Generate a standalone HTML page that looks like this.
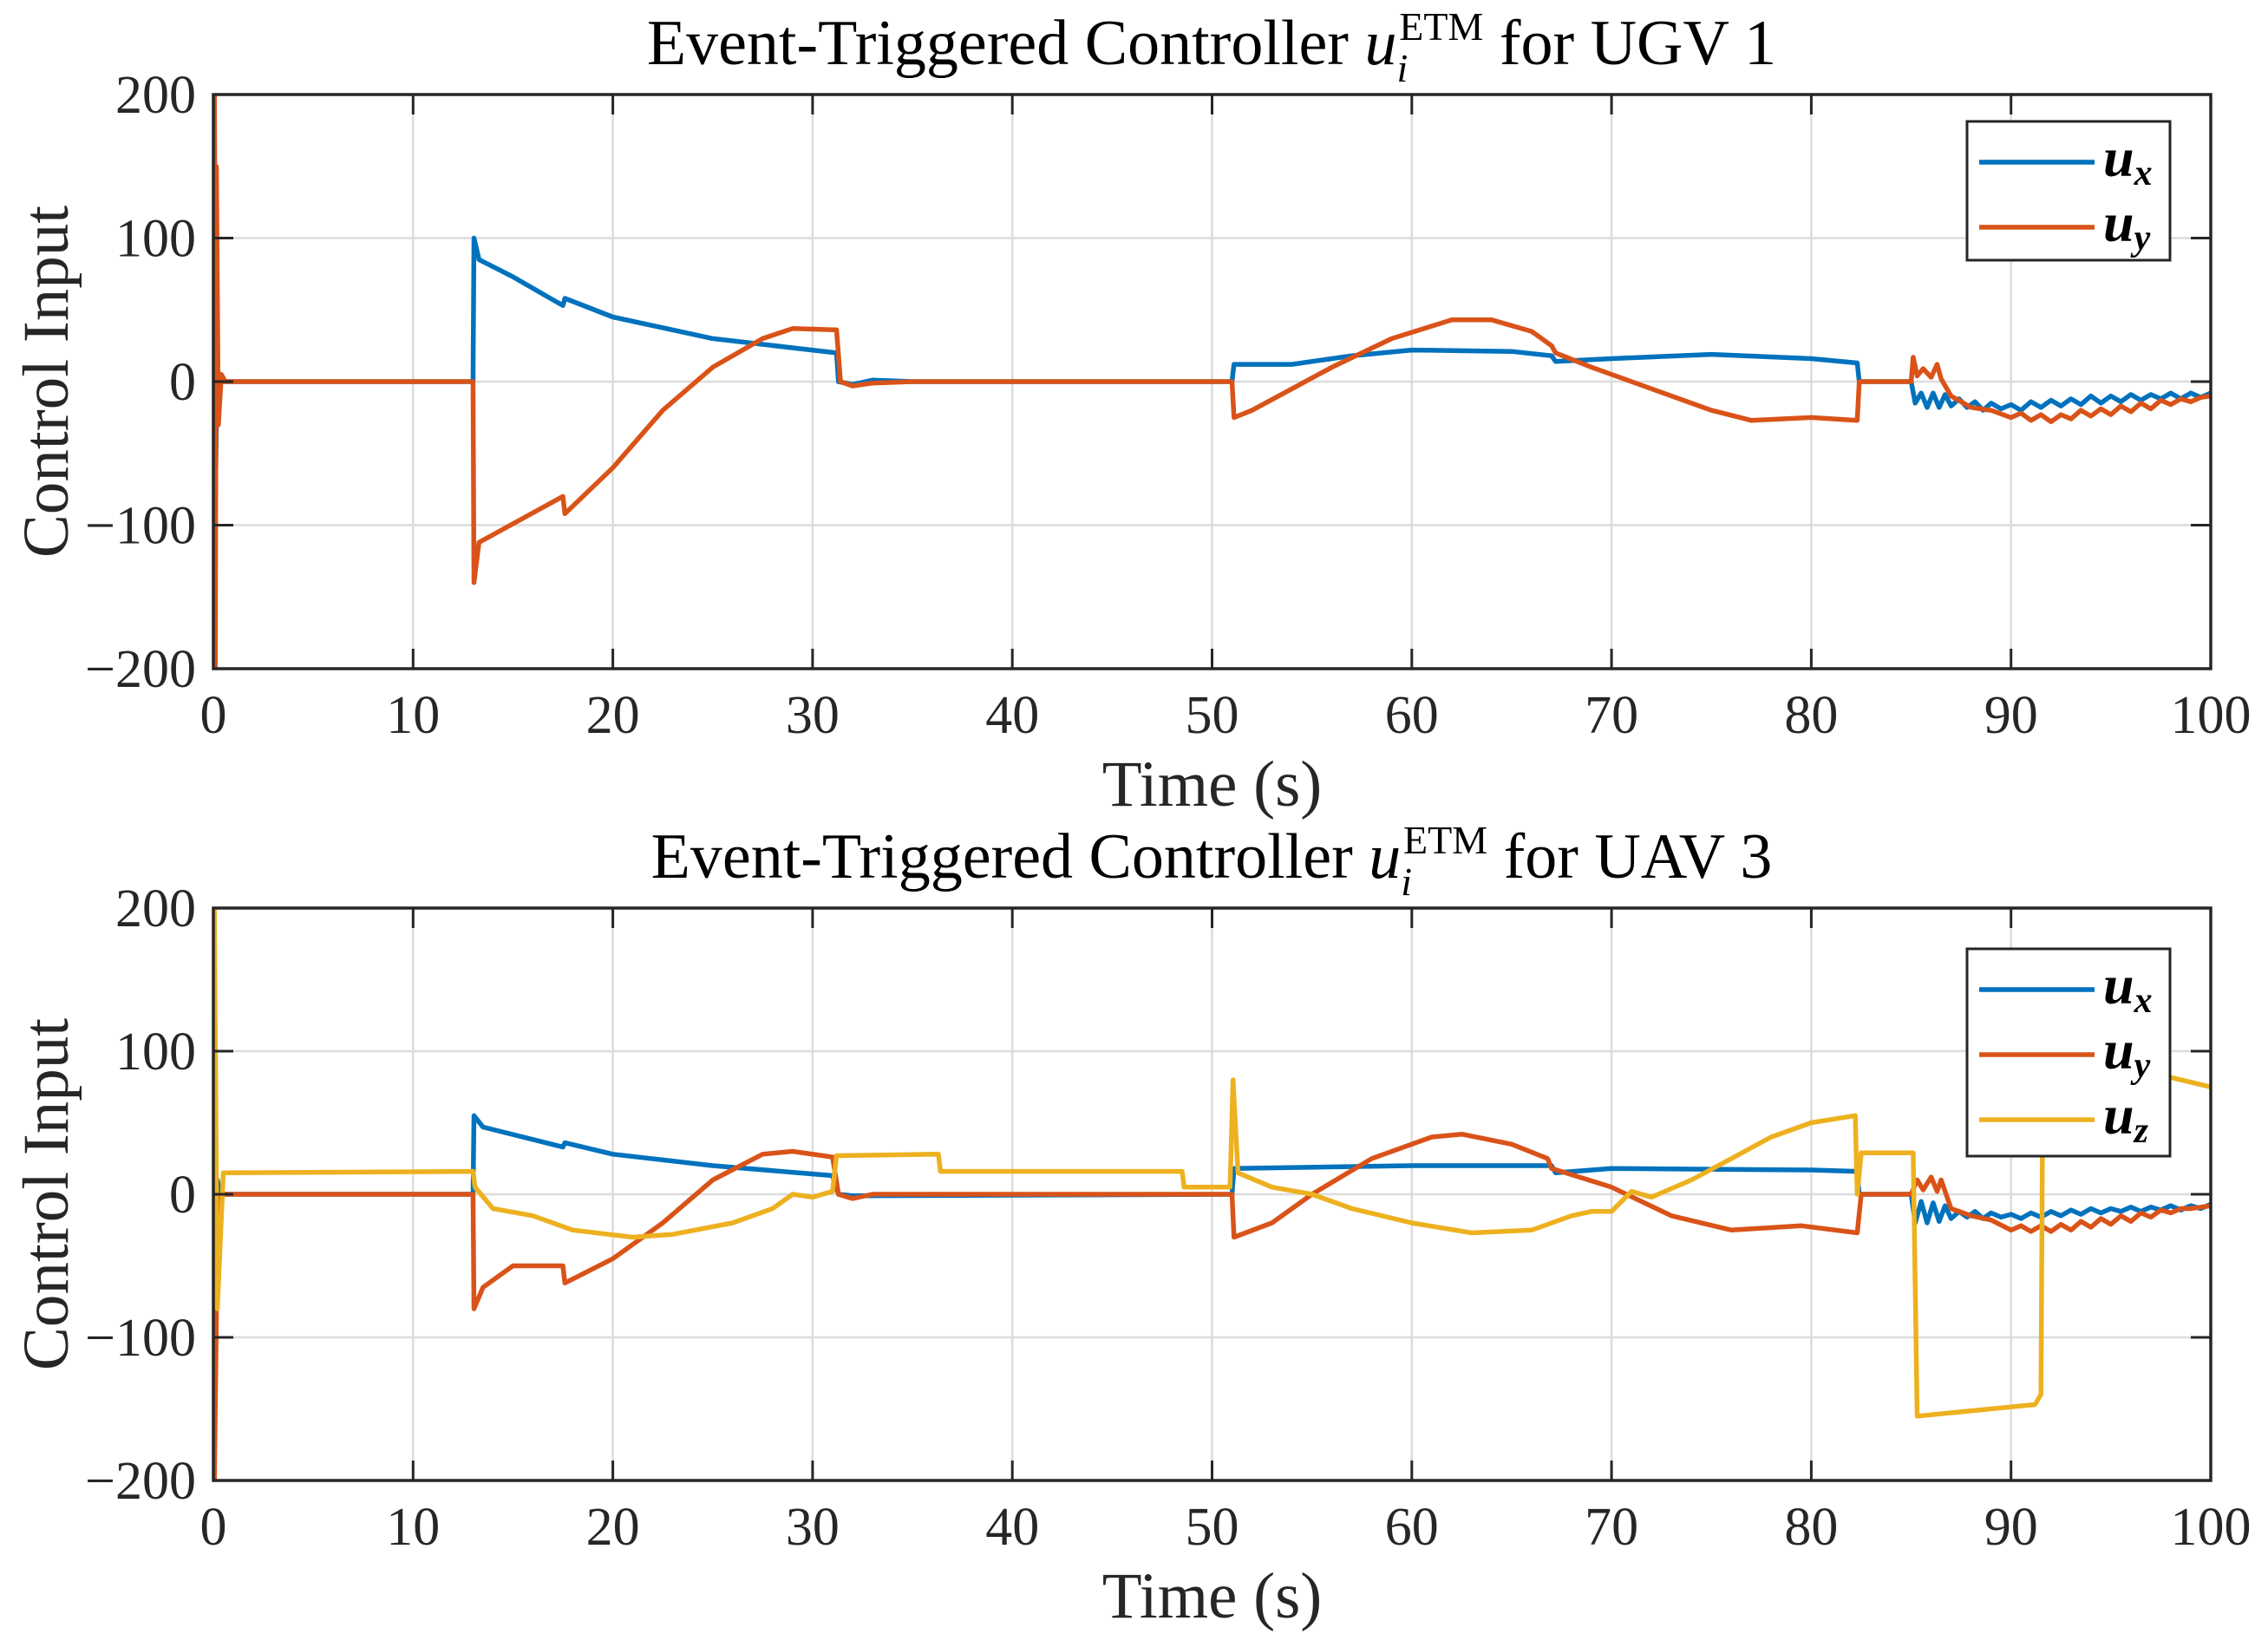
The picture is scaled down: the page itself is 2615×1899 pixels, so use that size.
<!DOCTYPE html>
<html><head><meta charset="utf-8"><title>Event-Triggered Controller</title>
<style>
html,body{margin:0;padding:0;background:#fff;}
svg{display:block;font-family:"Liberation Serif","DejaVu Serif",serif;}
</style></head>
<body>
<svg id="fig" width="2615" height="1899" viewBox="0 0 2615 1899" xmlns="http://www.w3.org/2000/svg"></svg>
<script>
// ---- data (time in s, value) ----
const xTicks = [0,10,20,30,40,50,60,70,80,90,100];
const yTicks = [-200,-100,0,100,200];
const yTickLabels = ["\u2212200","\u2212100","0","100","200"];

const ugvUxT = [0,0.05,0.12,0.2,0.3,0.5,1,13,13.05,13.3,15,17.5,17.6,20,25,31.2,31.3,32,33,35,51,51.1,54,57,60,65,67,67.2,70,75,80,82.3,82.4,85,85.2,85.5,85.8,86.1,86.4,86.7,87,87.4,87.8,88.2,88.6,89,89.5,90,90.5,91,91.5,92,92.5,93,93.5,94,94.5,95,95.5,96,96.5,97,97.5,98,98.5,99,99.5,100];
const ugvUxV = [0,200,-60,10,2,0,0,0,100,85,73,53,58,45,30,20,0,-2,1,0,0,12,12,18,22,21,18,14,16,19,16,13,0,0,-15,-8,-18,-8,-18,-9,-17,-12,-18,-14,-20,-15,-19,-16,-20,-14,-18,-13,-17,-12,-16,-10,-15,-10,-14,-9,-13,-9,-12,-8,-12,-8,-11,-8];
const ugvUyT = [0,0.05,0.1,0.15,0.25,0.4,0.6,1,13,13.05,13.3,17.5,17.6,20,22.5,25,27.5,29,31.2,31.4,32,33,35,51,51.1,52,54,56,59,62,64,66,67,67.2,69,72,75,77,80,82.3,82.4,85,85.1,85.3,85.6,86,86.3,86.5,87,88,89,90,90.5,91,91.5,92,92.5,93,93.5,94,94.5,95,95.5,96,96.5,97,97.5,98,98.5,99,99.5,100];
const ugvUyV = [0,200,-200,150,-30,5,0,0,0,-140,-112,-80,-92,-60,-20,10,30,37,36,0,-3,-1,0,0,-25,-20,-5,10,30,43,43,35,25,20,10,-5,-20,-27,-25,-27,0,0,17,4,9,3,12,2,-10,-18,-20,-25,-22,-27,-23,-28,-23,-26,-20,-24,-19,-23,-17,-21,-15,-19,-13,-16,-12,-14,-11,-10];

const uavUxT = [0,0.05,0.12,0.2,0.35,0.6,13,13.05,13.5,17.5,17.6,20,25,31,31.3,32,51,51.1,60,67,67.2,70,80,82.3,82.4,85,85.2,85.5,85.8,86.1,86.4,86.7,87,87.4,87.8,88.2,88.6,89,89.5,90,90.5,91,91.5,92,92.5,93,93.5,94,94.5,95,95.5,96,96.5,97,97.5,98,98.5,99,99.5,100];
const uavUxV = [0,30,-80,10,0,0,0,55,47,33,36,28,20,13,0,-1,0,18,20,20,15,18,17,16,0,0,-20,-5,-20,-6,-19,-8,-17,-12,-16,-12,-17,-13,-16,-14,-17,-13,-16,-12,-15,-11,-14,-10,-13,-10,-12,-9,-12,-9,-11,-8,-11,-8,-10,-7];
const uavUyT = [0,0.05,0.2,0.4,0.6,13,13.05,13.5,15,17.5,17.6,20,22.5,25,27.5,29,31,31.3,32,33,51,51.1,53,55,58,61,62.5,65,66.8,67,70,73,76,79.5,82.3,82.5,85,85.3,85.6,86,86.3,86.5,87,88,89,90,90.5,91,91.5,92,92.5,93,93.5,94,94.5,95,95.5,96,96.5,97,97.5,98,98.5,99,100];
const uavUyV = [0,-200,-30,0,0,0,-80,-65,-50,-50,-62,-45,-20,10,28,30,26,0,-3,0,0,-30,-20,0,25,40,42,35,25,18,5,-15,-25,-22,-27,0,0,10,3,12,2,10,-10,-15,-18,-25,-22,-26,-22,-26,-21,-25,-19,-23,-17,-21,-15,-19,-13,-16,-11,-13,-10,-10,-8];
const uavUzT = [0,0.05,0.2,0.5,13,13.1,14,16,18,21,23,26,28,29,30,31,31.2,36.3,36.4,48.5,48.6,50.9,51.05,51.3,53,55,57,60,63,66,68,69,70,71,72,74,76,78,80,82.2,82.3,82.5,85.1,85.3,91.2,91.5,91.6,97,100];
const uavUzV = [0,200,-80,15,16,5,-10,-15,-25,-30,-28,-20,-10,0,-2,2,27,28,16,16,5,5,80,15,5,0,-10,-20,-27,-25,-15,-12,-12,2,-2,10,25,40,50,55,0,29,29,-155,-147,-140,90,85,75];

// ---- layout ----
const NS = "http://www.w3.org/2000/svg";
const svg = document.getElementById('fig');
const COLORS = {ux:'#0072BD', uy:'#D95319', uz:'#EDB120'};
function mk(tag, attrs, parent){
  const e = document.createElementNS(NS, tag);
  for (const k in attrs) e.setAttribute(k, attrs[k]);
  (parent||svg).appendChild(e);
  return e;
}
function drawPanel(top, bottom, titleText, titleY, series, legendBox, panelName){
  const L = 246, R = 2549;
  const sx = t => L + (t/100)*(R-L);
  const sy = v => bottom - ((v+200)/400)*(bottom-top);
  const g = mk('g', {});
  
  
  const clipId = panelName + '-clip';
  const cp = mk('clipPath', {id: clipId}, g);
  mk('rect', {x:L, y:top, width:R-L, height:bottom-top}, cp);
  xTicks.forEach(t => {
    const l = mk('line', {x1:sx(t), x2:sx(t), y1:top, y2:bottom, stroke:'#dcdcdc', 'stroke-width':2.5}, g);
    
    
  });
  yTicks.forEach(v => {
    const l = mk('line', {x1:L, x2:R, y1:sy(v), y2:sy(v), stroke:'#dcdcdc', 'stroke-width':2.5}, g);
    
    
  });
  series.forEach(s => {
    let d = '';
    s.t.forEach((t,i) => { d += (i? 'L':'M') + sx(t).toFixed(1) + ' ' + sy(s.v[i]).toFixed(1); });
    const p = mk('path', {d:d, fill:'none', stroke:COLORS[s.key], 'stroke-width':5.5, 'stroke-linejoin':'round', 'clip-path':'url(#'+clipId+')'}, g);
    
    
  });
  const box = mk('rect', {x:L, y:top, width:R-L, height:bottom-top, fill:'none', stroke:'#262626', 'stroke-width':3.5}, g);
  
  
  xTicks.forEach(t => {
    mk('line', {x1:sx(t), x2:sx(t), y1:bottom, y2:bottom-23, stroke:'#262626', 'stroke-width':3}, g);
    mk('line', {x1:sx(t), x2:sx(t), y1:top, y2:top+23, stroke:'#262626', 'stroke-width':3}, g);
    const tx = mk('text', {x:sx(t), y:bottom+74, 'text-anchor':'middle', 'font-size':62, fill:'#262626'}, g);
    tx.textContent = t;
    
    
  });
  yTicks.forEach((v,i) => {
    mk('line', {x1:L, x2:L+23, y1:sy(v), y2:sy(v), stroke:'#262626', 'stroke-width':3}, g);
    mk('line', {x1:R, x2:R-23, y1:sy(v), y2:sy(v), stroke:'#262626', 'stroke-width':3}, g);
    const tx = mk('text', {x:226, y:sy(v)+21, 'text-anchor':'end', 'font-size':62, fill:'#262626'}, g);
    tx.textContent = yTickLabels[i];
    
    
  });
  const xl = mk('text', {x:(L+R)/2, y:bottom+158, 'text-anchor':'middle', 'font-size':75, fill:'#262626'}, g);
  xl.textContent = 'Time (s)';
  
  
  const cy = (top+bottom)/2;
  const yl = mk('text', {x:0, y:0, 'text-anchor':'middle', 'font-size':75, fill:'#262626', transform:'translate(78,'+cy+') rotate(-90)'}, g);
  yl.textContent = 'Control Input';
  
  
  const tt = mk('text', {x:1397, y:titleY, 'text-anchor':'middle', 'font-size':74, fill:'#000'}, g);
  
  
  const t1 = mk('tspan', {}, tt); t1.textContent = 'Event-Triggered Controller ';
  const t2 = mk('tspan', {'font-style':'italic'}, tt); t2.textContent = 'u';
  const t3 = mk('tspan', {'font-style':'italic', 'font-size':46, dy:20}, tt); t3.textContent = 'i';
  const t4 = mk('tspan', {'font-size':46, dy:-48, dx:-10}, tt); t4.textContent = 'ETM';
  const t5 = mk('tspan', {dy:28}, tt); t5.textContent = ' for ' + titleText;
  const lg = mk('g', {}, g);
  
  
  mk('rect', {x:2268, y:legendBox.top, width:234, height:legendBox.h, fill:'#fff', stroke:'#262626', 'stroke-width':3}, lg);
  series.forEach((s,i) => {
    const y = legendBox.top + 47 + i*75;
    const e = mk('g', {}, lg);
    
    
    mk('line', {x1:2282, x2:2415, y1:y, y2:y, stroke:COLORS[s.key], 'stroke-width':5.5}, e);
    const tx = mk('text', {x:2425, y:y+16, 'font-size':64, 'font-style':'italic', 'font-weight':'bold', fill:'#000'}, e);
    const a = mk('tspan', {}, tx); a.textContent = 'u';
    const b = mk('tspan', {'font-size':42, dy:10}, tx); b.textContent = s.key.slice(1);
  });
}
drawPanel(109, 771, 'UGV 1', 74,
  [{key:'ux', t:ugvUxT, v:ugvUxV}, {key:'uy', t:ugvUyT, v:ugvUyV}],
  {top:140, h:160}, 'ugv1-panel');
drawPanel(1047, 1707, 'UAV 3', 1012,
  [{key:'ux', t:uavUxT, v:uavUxV}, {key:'uy', t:uavUyT, v:uavUyV}, {key:'uz', t:uavUzT, v:uavUzV}],
  {top:1094, h:239}, 'uav3-panel');
</script>
</body></html>
